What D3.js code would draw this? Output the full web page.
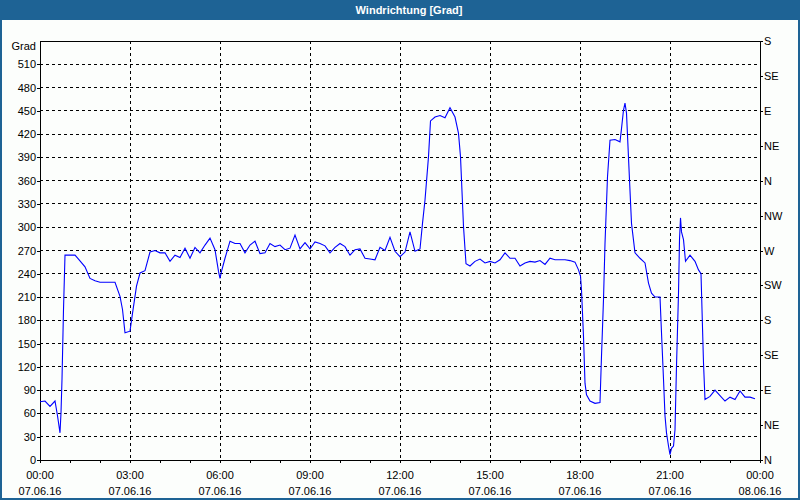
<!DOCTYPE html>
<html>
<head>
<meta charset="utf-8">
<script src="https://cdn.jsdelivr.net/npm/d3@7/dist/d3.min.js"></script>
<style>
  html, body { margin: 0; padding: 0; background: #fcfefc; }
  svg { display: block; }
  text { font-family: "Liberation Sans", Arial, sans-serif; font-size: 11px; fill: #000; }
</style>
</head>
<body>
<svg id="chart" width="800" height="500"></svg>
<script>
// ---- data ----
const title = "Windrichtung [Grad]";
const yUnit = "Grad";
// minutes after 07.06.16 00:00
const minutes = [0,10,20,30,35,40,42,44,47,50,60,70,77,90,100,110,120,130,140,150,160,165,170,180,185,193,200,210,220,230,240,250,260,270,280,290,300,310,320,330,340,350,357,360,363,370,380,390,400,410,420,430,440,450,460,470,480,490,500,510,520,530,540,550,560,570,580,590,600,610,620,630,640,650,660,670,680,690,700,710,720,730,740,750,760,765,770,777,781,790,800,810,820,830,837,841,847,852,860,870,880,890,900,910,920,930,940,950,960,970,980,990,1000,1010,1020,1030,1040,1050,1060,1070,1077,1081,1083,1087,1090,1093,1100,1110,1120,1123,1127,1130,1135,1140,1150,1160,1163,1167,1170,1173,1179,1183,1190,1200,1210,1217,1223,1230,1240,1243,1247,1250,1253,1257,1260,1263,1267,1270,1273,1277,1279,1281,1283,1287,1291,1300,1310,1317,1322,1327,1330,1340,1350,1360,1370,1380,1390,1400,1410,1420,1430];
const degrees = [75,76,69,76,57,35,61,104,194,264,264,264,259,249,234,231,229,229,229,229,211,194,164,166,189,224,241,244,268,270,267,267,256,264,261,273,260,274,267,277,286,271,243,234,243,260,282,279,279,267,277,282,266,267,279,275,277,271,273,290,272,280,272,281,279,276,267,274,279,275,264,271,272,260,259,258,274,270,287,269,262,268,294,269,272,305,335,391,437,442,444,441,454,442,421,391,301,253,250,256,259,254,256,254,258,267,260,260,250,254,256,255,257,252,260,258,258,258,257,255,245,237,219,159,99,84,76,73,74,134,207,279,365,412,413,410,427,451,460,447,361,305,267,260,254,228,215,210,210,164,104,57,35,18,7,15,18,39,121,215,284,312,294,284,256,264,256,245,240,125,78,82,90,83,76,81,78,89,81,81,79];
const leftTicks = [0,30,60,90,120,150,180,210,240,270,300,330,360,390,420,450,480,510];
const rightTicks = [0,45,90,135,180,225,270,315,360,405,450,495,540];
const rightLabels = ["N","NE","E","SE","S","SW","W","NW","N","NE","E","SE","S"];
const startDate = new Date(2016, 5, 7, 0, 0);
const endDate = new Date(2016, 5, 8, 0, 0);

// ---- layout ----
const W = 800, H = 500;
const L = 40, R = 760, T = 41, B = 460;
const svg = d3.select("#chart");

const x = d3.scaleTime().domain([startDate, endDate]).range([L, R]);
const y = d3.scaleLinear().domain([0, 540]).range([B, T]);

// background + frame
svg.append("rect").attr("x", 0).attr("y", 0).attr("width", W).attr("height", H).attr("fill", "#fcfefc");
svg.append("rect").attr("x", 0).attr("y", 0).attr("width", W).attr("height", 20).attr("fill", "#1e6395");
svg.append("rect").attr("x", 1).attr("y", 1).attr("width", W - 2).attr("height", H - 2)
  .attr("fill", "none").attr("stroke", "#1e6395").attr("stroke-width", 2);
svg.append("text").attr("x", 409).attr("y", 14).attr("text-anchor", "middle")
  .style("fill", "#fff").style("font-weight", "bold").text(title);

// grid
const grid = svg.append("g").attr("shape-rendering", "crispEdges")
  .attr("stroke", "#000").attr("stroke-dasharray", "3,3");
grid.selectAll("line.h").data(leftTicks.filter(d => d > 0)).join("line")
  .attr("x1", L).attr("x2", R).attr("y1", d => y(d)).attr("y2", d => y(d));
const vTicks = d3.timeHour.every(3).range(startDate, endDate).slice(1);
grid.selectAll("line.v").data(vTicks).join("line")
  .attr("y1", T).attr("y2", B).attr("x1", d => x(d)).attr("x2", d => x(d));

// axes
const leftAxis = d3.axisLeft(y).tickValues(leftTicks).tickSize(3).tickPadding(1);
const gL = svg.append("g").attr("transform", `translate(${L},0)`).call(leftAxis);
const rightAxis = d3.axisRight(y).tickValues(rightTicks).tickSize(3).tickPadding(1)
  .tickFormat((d, i) => rightLabels[i]);
const gR = svg.append("g").attr("transform", `translate(${R},0)`).call(rightAxis);
const bottomAxis = d3.axisBottom(x).ticks(d3.timeHour.every(1)).tickSize(3).tickFormat("");
const gB = svg.append("g").attr("transform", `translate(0,${B})`).call(bottomAxis);
[gL, gR, gB].forEach(g => {
  g.attr("shape-rendering", "crispEdges");
  g.selectAll("path,line").attr("stroke", "#000");
  g.selectAll("text").style("font-family", "'Liberation Sans', Arial, sans-serif").style("font-size", "11px");
  g.select(".domain").remove();
});
// plot box
svg.append("rect").attr("x", L).attr("y", T).attr("width", R - L).attr("height", B - T)
  .attr("fill", "none").attr("stroke", "#000").attr("shape-rendering", "crispEdges");

// left unit label
svg.append("text").attr("x", 36).attr("y", y(540) + 9).attr("text-anchor", "end").text(yUnit);

// bottom labels (two lines)
const labTicks = d3.timeHour.every(3).range(startDate, d3.timeMinute.offset(endDate, 1));
const fTime = d3.timeFormat("%H:%M"), fDate = d3.timeFormat("%d.%m.%y");
const gLab = svg.append("g");
gLab.selectAll("text.t").data(labTicks).join("text").attr("text-anchor", "middle")
  .attr("x", d => x(d)).attr("y", 479).text(d => fTime(d));
gLab.selectAll("text.d").data(labTicks).join("text").attr("text-anchor", "middle")
  .attr("x", d => x(d)).attr("y", 495).text(d => fDate(d));

// line
const series = minutes.map((m, i) => ({ t: d3.timeMinute.offset(startDate, m), v: degrees[i] }));
const line = d3.line().x(d => x(d.t)).y(d => y(d.v));
svg.append("path").datum(series).attr("d", line)
  .attr("fill", "none").attr("stroke", "#0000ff").attr("stroke-width", 1.1);
</script>
</body>
</html>
